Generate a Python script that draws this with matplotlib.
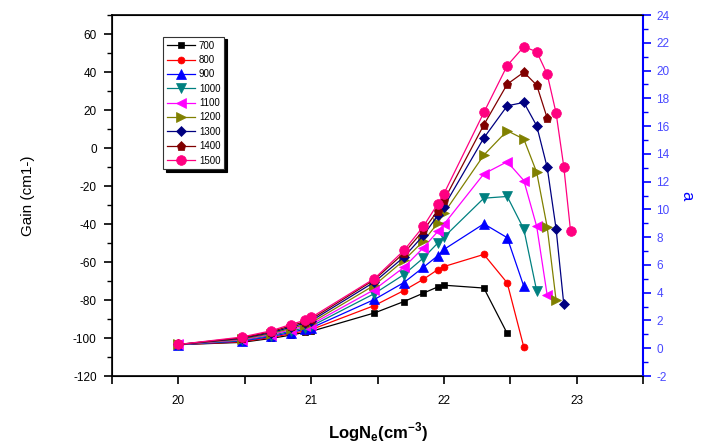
import matplotlib
matplotlib.use("Agg")
from matplotlib import pyplot as plt
from matplotlib.ticker import MultipleLocator

plt.rcParams['font.family'] = ['Liberation Sans', 'DejaVu Sans']
plt.rcParams['axes.unicode_minus'] = False

# log10 of electron density, shared x positions
logNe = [20.0, 20.477, 20.699, 20.845, 20.954, 21.0, 21.477, 21.699, 21.845, 21.954,
         22.0, 22.301, 22.477, 22.602, 22.699, 22.778, 22.845, 22.903, 22.954]

g700 = [-103.5, -102.3, -100.2, -98.5, -97.0, -96.5, -86.8, -80.8, -76.4, -73.1, -72.2, -73.7, -97.6]
g800 = [-103.5, -102.0, -99.7, -97.8, -96.2, -95.6, -82.9, -75.0, -69.1, -64.0, -62.4, -56.0, -71.0, -104.8]
g900 = [-103.5, -101.6, -99.2, -97.1, -95.4, -94.7, -79.7, -70.8, -62.8, -56.7, -53.4, -39.9, -47.2, -72.8]
g1000 = [-103.5, -101.3, -98.7, -96.4, -94.6, -93.8, -76.6, -66.6, -57.9, -50.0, -46.9, -26.4, -25.5, -42.7, -75.2]
g1100 = [-103.4, -100.9, -98.2, -95.7, -93.8, -92.9, -74.5, -62.8, -52.5, -43.9, -40.2, -13.6, -7.2, -17.1, -41.3, -77.5]
g1200 = [-103.4, -100.6, -97.7, -95.0, -93.0, -92.0, -72.2, -59.1, -49.0, -39.5, -34.3, -3.7, 9.1, 4.7, -12.8, -41.6, -80.1]
g1300 = [-103.4, -100.2, -97.2, -94.3, -92.2, -91.0, -70.5, -57.4, -46.0, -35.5, -30.8, 5.3, 22.2, 24.0, 11.7, -10.2, -42.5, -82.2]
g1400 = [-103.4, -99.9, -96.7, -93.6, -91.4, -90.1, -69.3, -55.3, -43.4, -32.9, -27.6, 12.2, 33.6, 39.9, 33.1, 15.8]
g1500 = [-103.4, -99.5, -96.2, -92.9, -90.6, -89.2, -68.7, -53.9, -41.3, -29.4, -24.1, 18.7, 43.4, 53.3, 50.7, 38.9, 18.4, -9.8, -43.7]

labels = ['700', '800', '900', '1000', '1100', '1200', '1300', '1400', '1500']
series = [g700, g800, g900, g1000, g1100, g1200, g1300, g1400, g1500]
colors = ['#000000', '#FF0000', '#0000FF', '#008080', '#FF00FF', '#808000', '#000080', '#800000', '#FF0080']
markers = ['s', 'o', '^', 'v', '<', '>', 'D', 'p', 'o']
msizes = [5, 5, 6.5, 6.5, 6.5, 6.5, 5.5, 6.5, 7]

fig = plt.figure(figsize=(7.1, 4.47), dpi=100)
ax = fig.add_axes([0.1577, 0.1588, 0.748, 0.8076])

for y, lab, c, m, ms in zip(series, labels, colors, markers, msizes):
    ax.plot(logNe[:len(y)], y, '-', color=c, lw=0.9, marker=m, markersize=ms,
            markeredgewidth=0.5, label=lab)

ax.set_xlim(19.5, 23.5)
ax.set_ylim(-120, 70)
ax.xaxis.set_major_locator(MultipleLocator(1))
ax.xaxis.set_minor_locator(MultipleLocator(0.5))
ax.yaxis.set_major_locator(MultipleLocator(20))
ax.yaxis.set_minor_locator(MultipleLocator(10))
ax.tick_params(axis='x', which='both', direction='out', length=6, width=1.2, labelsize=8.5, pad=8, top=False)
ax.tick_params(axis='y', which='major', direction='out', length=6, width=1.2, labelsize=8.5, pad=5, right=False)
ax.tick_params(axis='y', which='minor', direction='out', length=3.5, width=1.0, right=False)
for s in ax.spines.values():
    s.set_linewidth(1.2)

ax.set_ylabel('Gain (cm1-)', fontsize=11, labelpad=27)
ax.set_xlabel(r'LogN$_\mathregular{e}$(cm$^\mathregular{-3}$)', fontsize=12, fontweight='bold', labelpad=9)

ax2 = ax.twinx()
ax2.set_ylim(-2, 24)
ax2.yaxis.set_major_locator(MultipleLocator(2))
ax2.yaxis.set_minor_locator(MultipleLocator(1))
ax2.spines['right'].set_color('#0000FF')
ax2.spines['right'].set_linewidth(1.5)
ax2.tick_params(axis='y', which='major', colors='#0000FF', length=6, width=1.2, labelsize=8.5, labelcolor='#4848FF')
ax2.tick_params(axis='y', which='minor', colors='#0000FF', length=3.5, width=1.0)
ax2.set_ylabel('a', color='#0000FF', fontsize=12, rotation=270, labelpad=18)

leg = ax.legend(loc='upper left', bbox_to_anchor=(0.096, 0.94), borderaxespad=0,
                fontsize=7, handlelength=2.9, labelspacing=0.45, borderpad=0.4,
                handletextpad=0.4, fancybox=False, framealpha=1,
                shadow={'color': 'black', 'alpha': 1})
leg.get_frame().set_edgecolor('#333333')
leg.get_frame().set_linewidth(0.8)

fig.savefig('out.png', dpi=100)
